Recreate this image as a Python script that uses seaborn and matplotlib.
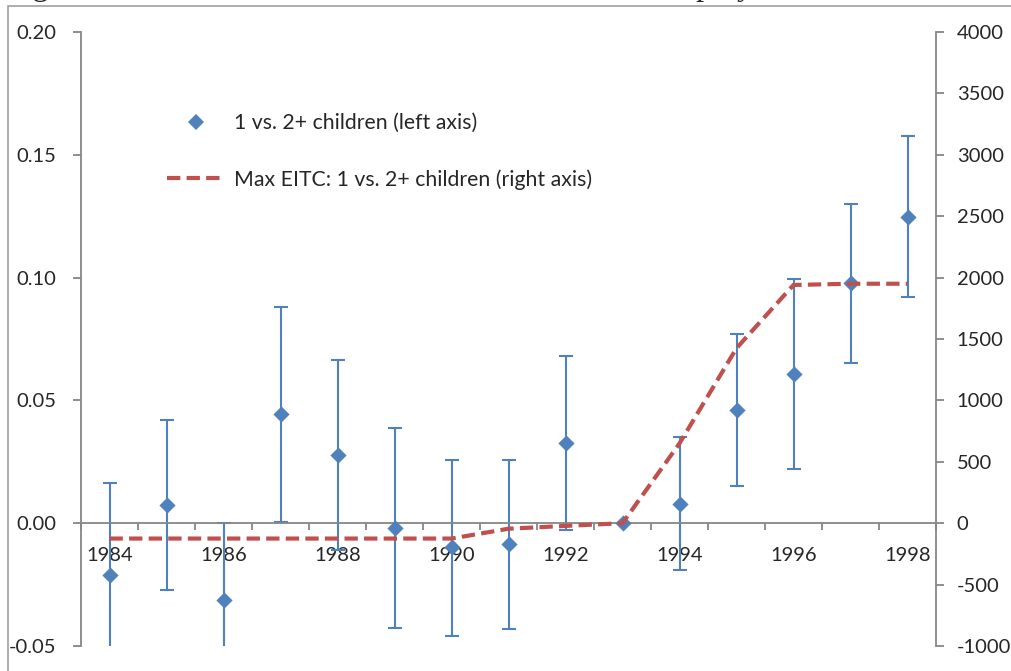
import matplotlib
matplotlib.use("Agg")
import matplotlib.pyplot as plt
from matplotlib.lines import Line2D
from matplotlib.patches import Rectangle
import numpy as np
import pandas as pd
import seaborn as sns

# Estimated effect, 1 vs. 2+ children (left axis), with confidence bounds
years = [1984, 1985, 1986, 1987, 1988, 1989, 1990, 1991,
         1992, 1993, 1994, 1995, 1996, 1997, 1998]
effect = [-0.0212, 0.0073, -0.0314, 0.0443, 0.0277, -0.0019, -0.0097, -0.0086,
          0.0325, 0.0000, 0.0080, 0.0460, 0.0607, 0.0978, 0.1248]
ci_low = [-0.0588, -0.0273, -0.0630, 0.0005, -0.0110, -0.0426, -0.0460, -0.0430,
          -0.0029, np.nan, -0.0191, 0.0151, 0.0219, 0.0653, 0.0922]
ci_high = [0.0164, 0.0420, 0.0001, 0.0880, 0.0663, 0.0386, 0.0257, 0.0257,
           0.0682, np.nan, 0.0352, 0.0769, 0.0994, 0.1300, 0.1575]

# Maximum EITC difference, 1 vs. 2+ children (right axis)
max_eitc = [-125, -125, -125, -125, -125, -125, -125, -45,
            -22, 0, 650, 1425, 1940, 1950, 1950]

left_ticks = [-0.05, 0.00, 0.05, 0.10, 0.15, 0.20]
right_ticks = [-1000, -500, 0, 500, 1000, 1500, 2000, 2500, 3000, 3500, 4000]
year_labels = ["1984", "1986", "1988", "1990", "1992", "1994", "1996", "1998"]

BLUE = "#4F81BD"
RED = "#C0504D"
GREY = "#868686"

sns.set_style("white")
plt.rcParams["font.family"] = ["Lato", "DejaVu Sans"]
plt.rcParams["font.size"] = 14

df = pd.DataFrame({
    "pos": np.arange(len(years)),
    "year": years,
    "effect": effect,
    "lo": ci_low,
    "hi": ci_high,
    "eitc": max_eitc,
})

fig = plt.figure(figsize=(10.11, 6.71), dpi=100)
ax = fig.add_axes([81 / 1011, 1 - 646 / 671, (936 - 81) / 1011, (646 - 32) / 671])
ax2 = ax.twinx()

# Confidence intervals
err = np.vstack([df["effect"] - df["lo"], df["hi"] - df["effect"]])
ax.errorbar(df["pos"], df["effect"], yerr=err, fmt="none", ecolor=BLUE,
            elinewidth=1.5, capsize=5, capthick=1.5, zorder=2)
sns.scatterplot(data=df, x="pos", y="effect", ax=ax, marker="D", s=68,
                color=BLUE, linewidth=0, zorder=3, legend=False)

sns.lineplot(data=df, x="pos", y="eitc", ax=ax2, color=RED, linewidth=3,
             dashes=False, legend=False, zorder=4)
ax2.lines[0].set_dashes((3.2, 1.5))

# Left axis
ax.set_ylim(-0.05, 0.20)
ax.set_yticks(left_ticks)
ax.set_yticklabels([f"{v:.2f}" for v in left_ticks])
ax.set_xlim(-0.5, len(years) - 0.5)
ax.set_xlabel("")
ax.set_ylabel("")

# Category axis drawn along zero
ax.spines["bottom"].set_position(("data", 0))
ax.spines["bottom"].set_color(GREY)
ax.spines["bottom"].set_linewidth(1.3)
ax.spines["top"].set_visible(False)
ax.spines["right"].set_visible(False)
ax.spines["left"].set_color(GREY)
ax.spines["left"].set_linewidth(1.3)
ax.set_xticks(np.arange(-0.5, len(years), 1.0))
ax.set_xticklabels([])
ax.set_xticks(np.arange(0, len(years), 2), labels=year_labels, minor=True)
ax.tick_params(axis="x", which="major", direction="out", length=5, width=1.3,
               color=GREY, bottom=True)
ax.tick_params(axis="x", which="minor", length=0, pad=17, labelsize=14.5,
               bottom=True)
ax.tick_params(axis="y", direction="out", length=6, width=1.3, color=GREY,
               pad=12, labelsize=14.5, left=True)

# Right axis
ax2.set_ylim(-1000, 4000)
ax2.set_yticks(right_ticks)
ax2.set_yticklabels([str(v) for v in right_ticks])
ax2.set_ylabel("")
for side in ["top", "left", "bottom"]:
    ax2.spines[side].set_visible(False)
ax2.spines["right"].set_color(GREY)
ax2.spines["right"].set_linewidth(1.3)
ax2.tick_params(axis="y", direction="out", length=6, width=1.3, color=GREY,
                pad=9, labelsize=14.5, right=True)

# Legend
handles = [
    Line2D([], [], linestyle="none", marker="D", markersize=8.5,
           markerfacecolor=BLUE, markeredgewidth=0),
    Line2D([], [], color=RED, linewidth=3, dashes=(3.2, 1.5)),
]
labels = ["1 vs. 2+ children (left axis)",
          "Max EITC: 1 vs. 2+ children (right axis)"]
ax2.legend(handles, labels, loc="upper left", frameon=False, fontsize=15.3,
           handlelength=2.7, handletextpad=0.45, labelspacing=1.7,
           bbox_to_anchor=(148 / 1011, 1 - 94 / 671),
           bbox_transform=fig.transFigure)

# Chart frame and caption running off the top edge
fig.patches.append(Rectangle((8 / 1011, -0.1), 1.2, 1.1 - 6 / 671,
                             transform=fig.transFigure, fill=False,
                             edgecolor="#A0A0A0", linewidth=1.2))
fig.text(6 / 1011, 1 + 5 / 671, "Figure", fontsize=23,
         family="Liberation Serif", va="baseline", ha="left")
fig.text(658 / 1011, 1 + 5 / 671, "employment,", fontsize=23,
         family="Liberation Serif", va="baseline", ha="left")

fig.savefig("out.png", dpi=100)
